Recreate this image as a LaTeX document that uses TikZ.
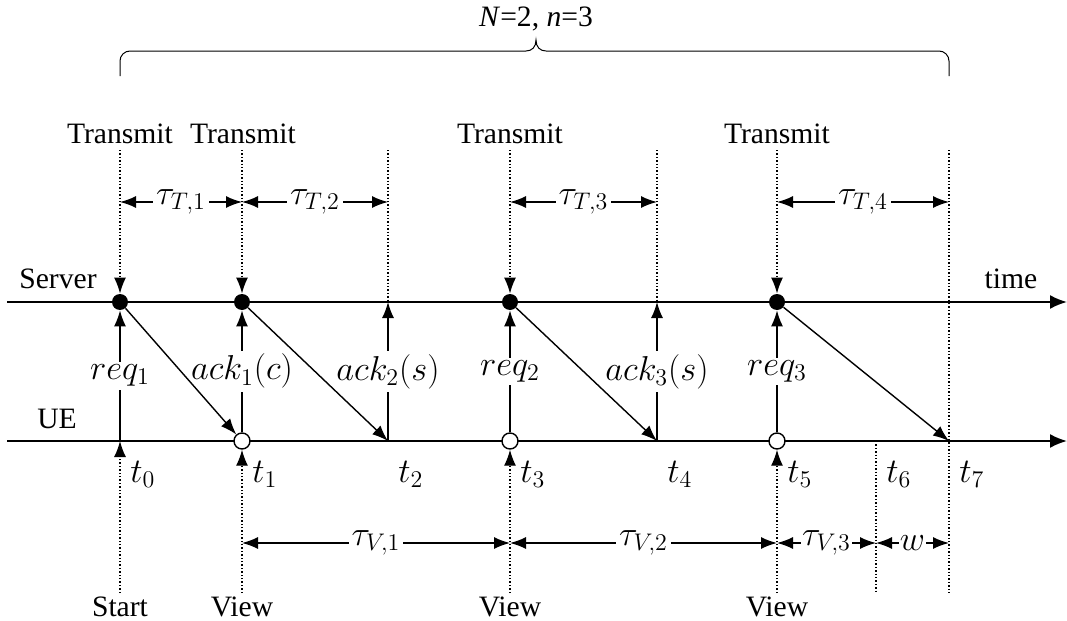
\documentclass[tikz,border=0pt]{standalone}
\usepackage{fontspec}
\setmainfont{Liberation Serif}
\newfontfamily\tnr{Liberation Serif}
\usetikzlibrary{arrows.meta}
\begin{document}
\begin{tikzpicture}[x=0.5pt,y=-0.5pt,
  font=\tnr\fontsize{14.8}{17}\selectfont,
  mth/.style={font=\fontsize{18.5}{20}\selectfont},
  axis/.style={line width=1pt,-{Latex[length=8.5pt,width=7pt]}},
  arr/.style={line width=0.7pt,-{Latex[length=8pt,width=6pt]}},
  dimarr/.style={line width=0.7pt,{Latex[length=8pt,width=6pt]}-{Latex[length=8pt,width=6pt]}},
  dots/.style={densely dotted,line width=0.7pt},
  dotarr/.style={densely dotted,line width=0.7pt,-{Latex[length=8pt,width=6pt]}},
  sdot/.style={circle,fill=black,inner sep=0pt,minimum size=8pt},
  udot/.style={circle,draw,fill=white,line width=0.7pt,inner sep=0pt,minimum size=8pt},
  lbl/.style={fill=white,inner sep=1.5pt,mth},
  tlab/.style={anchor=west,inner sep=1pt,mth},
  brace/.style={line width=0.5pt}]
\useasboundingbox (0,0) rectangle (1067,621);

% axes
\coordinate (sa) at (7,302); \coordinate (sb) at (1067,302);
\coordinate (ua) at (7,441); \coordinate (ub) at (1067,441);
\draw[axis] (sa) -- (sb);
\draw[axis] (ua) -- (ub);
\node (server) at (58,279) {Server};
\node (ue) at (57,419) {UE};
\node (time) at (1011,279) {time};

% brace
\coordinate (b1) at (120,76); \coordinate (b2) at (949,76);
\draw[brace,rounded corners=5pt] (b1) -- (120,51) -- (526,51);
\draw[brace] (526,51) .. controls (532,51) and (536,47) .. (536,40) .. controls (536,47) and (540,51) .. (546,51);
\draw[brace,rounded corners=5pt] (546,51) -- (949,51) -- (b2);
\node (Nn) at (536,19) {\textit{N}=2, \textit{n}=3};

% top labels
\node (tr0) at (120,134) {Transmit};
\node (tr1) at (243,134) {Transmit};
\node (tr3) at (510,134) {Transmit};
\node (tr5) at (777,134) {Transmit};

% top dotted coordinates
\foreach \n/\x in {0/120,1/242,2/388,3/510,4/657,5/777,7/949}{
  \coordinate (top\n) at (\x,150);
  \coordinate (dt\n) at (\x,202);
}
\foreach \n/\x in {0/120,1/242,3/510,5/777,6/876,7/949}{
  \coordinate (bot\n) at (\x,593);
  \coordinate (dv\n) at (\x,543);
}

% server points
\node[sdot] (s0) at (120,302) {};
\node[sdot] (s1) at (242,302) {};
\coordinate (s2) at (388,302);
\node[sdot] (s3) at (510,302) {};
\coordinate (s4) at (657,302);
\node[sdot] (s5) at (777,302) {};
\coordinate (s7) at (949,302);

% UE points
\coordinate (u0) at (120,441);
\node[udot] (u1) at (242,441) {};
\coordinate (u2) at (388,441);
\node[udot] (u3) at (510,441) {};
\coordinate (u4) at (657,441);
\node[udot] (u5) at (777,441) {};
\coordinate (u6) at (876,441);
\coordinate (u7) at (949,441);

% transmit dotted arrows
\draw[dotarr] (top0) -- (s0.north);
\draw[dotarr] (top1) -- (s1.north);
\draw[dotarr] (top3) -- (s3.north);
\draw[dotarr] (top5) -- (s5.north);
\draw[dots] (top2) -- (s2);
\draw[dots] (top4) -- (s4);
\draw[dots] (top7) -- (bot7);

% tau_T
\draw[dimarr] (dt0) -- node[lbl] {$\tau_{T,1}$} (dt1);
\draw[dimarr] (dt1) -- node[lbl] {$\tau_{T,2}$} (dt2);
\draw[dimarr] (dt3) -- node[lbl] {$\tau_{T,3}$} (dt4);
\draw[dimarr] (dt5) -- node[lbl] {$\tau_{T,4}$} (dt7);

% vertical arrows UE -> server
\draw[arr] (u0) -- node[lbl] {$req_1$} (s0.south);
\draw[arr] (u1.north) -- node[lbl] {$ack_1(c)$} (s1.south);
\draw[arr] (u2) -- node[lbl] {$ack_2(s)$} (s2);
\draw[arr] (u3.north) -- node[lbl] {$req_2$} (s3.south);
\draw[arr] (u4) -- node[lbl] {$ack_3(s)$} (s4);
\draw[arr] (u5.north) -- node[lbl] {$req_3$} (s5.south);

% diagonal arrows server -> UE
\draw[arr] (s0) -- (u1);
\draw[arr] (s1) -- (u2);
\draw[arr] (s3) -- (u4);
\draw[arr] (s5) -- (u7);

% bottom dotted
\draw[dotarr] (bot0) -- (u0);
\draw[dotarr] (bot1) -- (u1.south);
\draw[dotarr] (bot3) -- (u3.south);
\draw[dotarr] (bot5) -- (u5.south);
\draw[dots] (u6) -- (bot6);

% t labels
\node[tlab] (t0) at (128,474) {$t_0$};
\node[tlab] (t1) at (250,474) {$t_1$};
\node[tlab] (t2) at (396,474) {$t_2$};
\node[tlab] (t3) at (518,474) {$t_3$};
\node[tlab] (t4) at (665,474) {$t_4$};
\node[tlab] (t5) at (785,474) {$t_5$};
\node[tlab] (t6) at (884,474) {$t_6$};
\node[tlab] (t7) at (957,474) {$t_7$};

% tau_V
\draw[dimarr] (dv1) -- node[lbl] {$\tau_{V,1}$} (dv3);
\draw[dimarr] (dv3) -- node[lbl] {$\tau_{V,2}$} (dv5);
\draw[dimarr] (dv5) -- node[lbl,inner sep=0.5pt] {$\tau_{V,3}$} (dv6);
\draw[dimarr] (dv6) -- node[lbl,inner sep=0.5pt] {$w$} (dv7);

% bottom labels
\node[anchor=base,inner sep=0pt] (start) at (120,616) {Start};
\node[anchor=base,inner sep=0pt] (v1) at (242,616) {View};
\node[anchor=base,inner sep=0pt] (v3) at (510,616) {View};
\node[anchor=base,inner sep=0pt] (v5) at (777,616) {View};
\end{tikzpicture}
\end{document}
